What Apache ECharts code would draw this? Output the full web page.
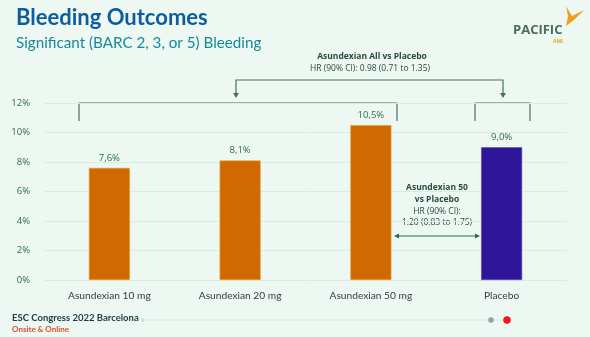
<!DOCTYPE html>
<html><head><meta charset="utf-8">
<script src="https://cdn.jsdelivr.net/npm/echarts@6/dist/echarts.min.js"></script>
<style>html,body{margin:0;padding:0;background:#edf8f3;}#c{width:590px;height:337px;}</style>
</head><body><div id="c"></div>
<script>
const categories = ['Asundexian 10 mg','Asundexian 20 mg','Asundexian 50 mg','Placebo'];
const values = [7.6, 8.1, 10.5, 9.0];
const valueLabels = ['7,6%','8,1%','10,5%','9,0%'];
const barColors = ['#d06a00','#d06a00','#d06a00','#2f1698'];
const yTicks = [0,2,4,6,8,10,12];

const chart = echarts.init(document.getElementById('c'));
const font = '"Open Sans", "Noto Sans", sans-serif';
const lato = 'Lato, "Open Sans", sans-serif';
const green = '#2f6b55';
const opt = {
  backgroundColor: '#edf8f3',
  animation: false,
  grid: {left: 44, right: 23, top: 103, bottom: 57},
  xAxis: {type:'category', data: categories,
    axisLine:{show:false}, axisTick:{show:false},
    axisLabel:{color:'#3a3a3a', fontSize:10.2, fontFamily:lato, margin:11}},
  yAxis: {type:'value', min:0, max:12, interval:2,
    axisLine:{show:false}, axisTick:{show:false},
    splitLine:{lineStyle:{color:'#d9ece4', width:1}},
    axisLabel:{color:green, fontSize:9.5, fontFamily:font, margin:14,
      formatter: v => v + '%'}},
  series: [{type:'bar', barWidth:41,
    data: values.map((v,i)=>({value:v, itemStyle:{color:barColors[i], borderColor: i<3?'#e0a030':'#5a4ab8', borderWidth:0.6}})),
    label:{show:true, position:'top', distance:5, color:green, fontSize:9.5, fontFamily:font,
      formatter: p => valueLabels[p.dataIndex]}}],
  graphic: [
    {type:'text', left:16, top:7, style:{text:'Bleeding Outcomes', fill:'#0d5c9e', font:'bold 22px '+lato}},
    {type:'text', left:16, top:36, style:{text:'Significant (BARC 2, 3, or 5) Bleeding', fill:'#17899a', font:'15.2px '+lato}},
    // logo
    {type:'text', left:513, top:24, style:{text:'PACIFIC', fill:'#4d6b5f', font:'bold 13px '+font}},
    {type:'text', left:553, top:39, style:{text:'AMI', fill:'#e8a020', font:'bold 5px '+font}},
    {type:'polygon', shape:{points:[[566,6],[572,16],[584,10],[574,20],[566,26],[568,16]]}, style:{fill:'#f0a020'}},
    // top annotation
    {type:'text', x:372, y:57, style:{text:'Asundexian All vs Placebo', fill:'#2a4a3e', font:'bold 8.5px '+font, textAlign:'center', textVerticalAlign:'middle'}},
    {type:'text', x:370, y:69, style:{text:'HR (90% CI): 0.98 (0.71 to 1.35)', fill:'#2a4a3e', font:'8.5px '+font, textAlign:'center', textVerticalAlign:'middle'}},
    {type:'polyline', shape:{points:[[236,95],[236,80],[503,80],[503,95]]}, style:{stroke:'#4a6e60', lineWidth:1.2, fill:null}},
    {type:'polygon', shape:{points:[[233,93],[239,93],[236,98]]}, style:{fill:'#4a6e60'}},
    {type:'polygon', shape:{points:[[500,93],[506,93],[503,98]]}, style:{fill:'#4a6e60'}},
    // brackets
    {type:'polyline', shape:{points:[[79,121],[79,103],[397,103],[397,121]]}, style:{stroke:'#4a6e60', lineWidth:1.2, fill:null}},
    {type:'polyline', shape:{points:[[475,121],[475,103],[530,103],[530,121]]}, style:{stroke:'#4a6e60', lineWidth:1.2, fill:null}},
    // second annotation
    {type:'text', x:437, y:188, style:{text:'Asundexian 50', fill:'#2a4a3e', font:'bold 8.5px '+font, textAlign:'center', textVerticalAlign:'middle'}},
    {type:'text', x:437, y:200, style:{text:'vs Placebo', fill:'#2a4a3e', font:'bold 8.5px '+font, textAlign:'center', textVerticalAlign:'middle'}},
    {type:'text', x:437, y:212, style:{text:'HR (90% CI):', fill:'#2a4a3e', font:'8.5px '+font, textAlign:'center', textVerticalAlign:'middle'}},
    {type:'text', x:437, y:223, style:{text:'1.20 (0.83 to 1.75)', fill:'#2a4a3e', font:'8.5px '+font, textAlign:'center', textVerticalAlign:'middle'}},
    {type:'line', shape:{x1:396, y1:236, x2:478, y2:236}, style:{stroke:'#2f6b55', lineWidth:1}},
    {type:'polygon', shape:{points:[[394,236],[399,233.5],[399,238.5]]}, style:{fill:'#2f6b55'}},
    {type:'polygon', shape:{points:[[480,236],[475,233.5],[475,238.5]]}, style:{fill:'#2f6b55'}},
    // footer
    {type:'text', left:12, top:313, style:{text:'ESC Congress 2022 Barcelona', fill:'#1e3a40', font:'bold 9.5px '+lato}},
    {type:'text', left:12, top:325, style:{text:'Onsite & Online', fill:'#e0502a', font:'bold 8px '+lato}},
    {type:'line', shape:{x1:143, y1:320, x2:506, y2:320}, style:{stroke:'#d6ebe3', lineWidth:1}},
    {type:'circle', shape:{cx:143, cy:320, r:2}, style:{fill:'#cfe2db'}},
    {type:'circle', shape:{cx:491, cy:320, r:2.8}, style:{fill:'#8aa8a0'}},
    {type:'circle', shape:{cx:507, cy:320, r:3.8}, style:{fill:'#ee1c10'}}
  ]
};
chart.setOption(opt);
</script></body></html>
